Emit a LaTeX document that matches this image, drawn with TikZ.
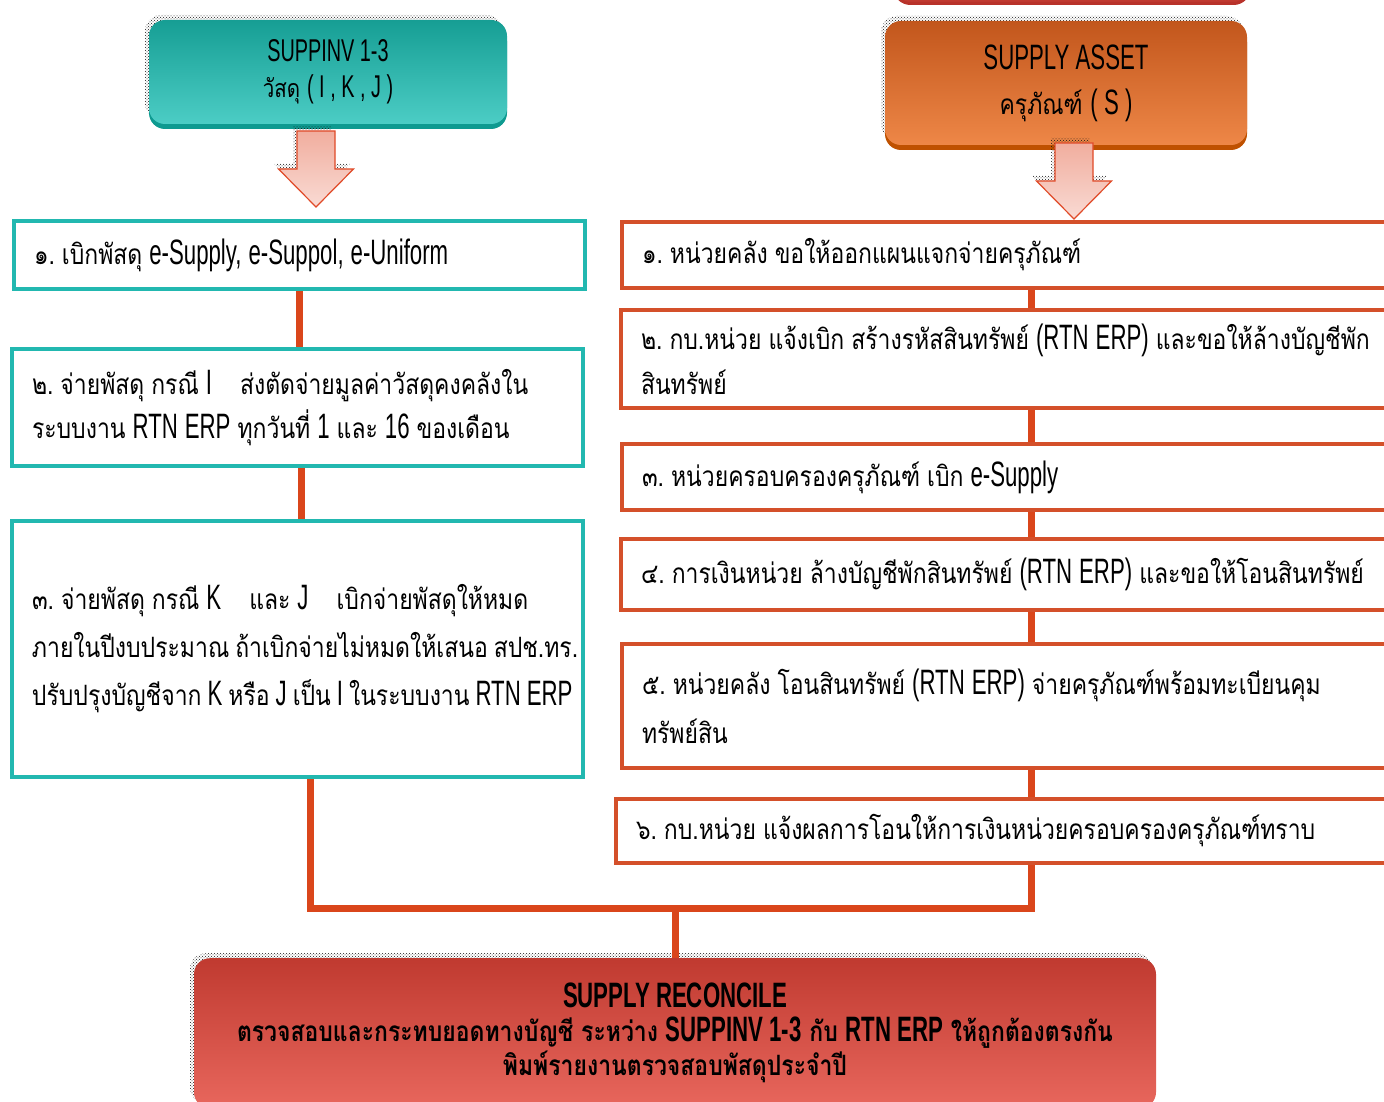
\documentclass[tikz,border=0pt]{standalone}
\usepackage{fontspec}
\setmainfont[Script=Thai,FakeStretch=0.82]{Loma}
\newfontfamily\lat[Scale=1.26,FakeStretch=0.63]{Liberation Sans}
\newcommand{\en}[1]{{\lat #1}}
\newcommand{\tight}{\spaceskip=7pt plus 2pt minus 1pt\xspaceskip=7pt plus 2pt minus 1pt\relax}
\usetikzlibrary{shadows,patterns}
\definecolor{tealline}{HTML}{22B8B0}
\definecolor{tealdark}{HTML}{0E9A90}
\definecolor{teallight}{HTML}{4CCDC5}
\definecolor{tealtop}{HTML}{169E94}
\definecolor{orline}{HTML}{D4502A}
\definecolor{ordark}{HTML}{BF5100}
\definecolor{ortop}{HTML}{C2561C}
\definecolor{orlight}{HTML}{EE8747}
\definecolor{link}{HTML}{DA461B}
\definecolor{redtop}{HTML}{C03A30}
\definecolor{redlight}{HTML}{E8675D}
\definecolor{reddark}{HTML}{B8322A}
\definecolor{arrline}{HTML}{E04A28}

\begin{document}
\begin{tikzpicture}[x=1pt,y=-1pt]
                        \tikzstyle{dots}=[general shadow={shadow xshift=-4pt,shadow yshift=5pt,pattern=crosshatch dots,pattern color=black!90}]
                        \tikzstyle{head}=[rounded corners=16pt, inner sep=0pt, align=center, font=\fontsize{25}{38}\selectfont]
                        \tikzstyle{stepL}=[draw=tealline, line width=4pt, fill=white, anchor=north west, inner xsep=20pt, inner ysep=0pt, align=left, execute at begin node=\tight, minimum width=571pt, text width=531pt, font=\fontsize{28}{48}\selectfont]
                        \tikzstyle{stepR}=[draw=orline, line width=4pt, fill=white, anchor=north west, inner xsep=20pt, inner ysep=0pt, align=left, execute at begin node=\tight, minimum width=800pt, text width=760pt, font=\fontsize{28}{47}\selectfont]
                        \tikzstyle{fat}=[top color=arrline!45, bottom color=arrline!20, draw=arrline, line width=1.2pt, line join=miter, dots]
                        \tikzstyle{link}=[draw=link, line width=7pt]
                        \clip (0,0) rectangle (1384,1102);
                        \node[head, anchor=south, minimum width=355pt, minimum height=60pt, fill=redtop, draw=reddark, line width=3pt] (prev) at (1072,5) {};
                        \node[head, dots, general shadow={shadow yshift=-5pt, fill=tealdark}, minimum width=358pt, minimum height=104pt, top color=tealtop, bottom color=teallight] (inv) at (328,72) {\en{SUPPINV 1-3}\\[-2pt] วัสดุ \en{( I , K , J )}};
                        \node[head, dots, general shadow={shadow yshift=-5pt, fill=ordark}, minimum width=362pt, minimum height=124pt, top color=ortop, bottom color=orlight, font=\fontsize{28}{45}\selectfont] (asset) at (1066,83) {\en{SUPPLY ASSET}\\ ครุภัณฑ์ \en{( S )}};
                        \coordinate (arrL) at (316,131);
                        \coordinate (arrR) at (1074,143);
                        \draw[fat] (arrL) ++(-19,0) -- ++(38,0) -- ++(0,38) -- ++(18.5,0) -- ++(-37.5,38) -- ++(-37.5,-38) -- ++(18.5,0) -- cycle;
                        \draw[fat] (arrR) ++(-19,0) -- ++(38,0) -- ++(0,38) -- ++(18.5,0) -- ++(-37.5,38) -- ++(-37.5,-38) -- ++(18.5,0) -- cycle;
                        \node[stepL, minimum height=68pt] (L1) at (12,219) {๑. เบิกพัสดุ \en{e-Supply, e-Suppol, e-Uniform}};
                        \node[stepL, minimum height=117pt, font=\fontsize{28}{44}\selectfont] (L2) at (10,347) {๒. จ่ายพัสดุ กรณี \en{I}\quad ส่งตัดจ่ายมูลค่าวัสดุคงคลังใน\\ระบบงาน \en{RTN ERP} ทุกวันที่ \en{1} และ \en{16} ของเดือน};
                        \node[stepL, minimum height=256pt] (L3) at (10,519) {๓. จ่ายพัสดุ กรณี \en{K}\quad และ \en{J}\quad เบิกจ่ายพัสดุให้หมด\\ภายในปีงบประมาณ~ถ้าเบิกจ่ายไม่หมดให้เสนอ~สปช.ทร.\\ปรับปรุงบัญชีจาก~\en{K}~หรือ~\en{J}~เป็น~\en{I}~ในระบบงาน~\en{RTN~ERP}};
                        \node[stepR, minimum height=66pt] (R1) at (620,220) {๑. หน่วยคลัง ขอให้ออกแผนแจกจ่ายครุภัณฑ์};
                        \node[stepR, minimum height=98pt, font=\fontsize{28}{45}\selectfont] (R2) at (619,308) {๒. กบ.หน่วย แจ้งเบิก สร้างรหัสสินทรัพย์ \en{(RTN ERP)} และขอให้ล้างบัญชีพัก\\สินทรัพย์};
                        \node[stepR, minimum height=66pt] (R3) at (620,442) {๓. หน่วยครอบครองครุภัณฑ์ เบิก \en{e-Supply}};
                        \node[stepR, minimum height=71pt] (R4) at (619,537) {๔. การเงินหน่วย ล้างบัญชีพักสินทรัพย์ \en{(RTN ERP)} และขอให้โอนสินทรัพย์};
                        \node[stepR, minimum height=124pt, font=\fontsize{28}{49}\selectfont] (R5) at (620,642) {๕. หน่วยคลัง โอนสินทรัพย์ \en{(RTN ERP)} จ่ายครุภัณฑ์พร้อมทะเบียนคุม\\ทรัพย์สิน};
                        \node[stepR, minimum height=64pt] (R6) at (614,797) {๖. กบ.หน่วย แจ้งผลการโอนให้การเงินหน่วยครอบครองครุภัณฑ์ทราบ};
                        \node[head, anchor=north, dots, minimum width=962pt, minimum height=150pt, top color=redtop, bottom color=redlight, font=\fontsize{28}{34}\selectfont\bfseries] (rec) at (675,958) {\en{SUPPLY RECONCILE}\\ตรวจสอบและกระทบยอดทางบัญชี ระหว่าง \en{SUPPINV 1-3} กับ \en{RTN ERP} ให้ถูกต้องตรงกัน\\พิมพ์รายงานตรวจสอบพัสดุประจำปี};
                        \coordinate (spine) at (1031,0);
                        \coordinate (lx) at (310,0);
                        \coordinate (mid) at (675,908);
                        \draw[link] (L1.south) -- (L1.south |- L2.north);
                        \draw[link] ([xshift=4pt]L2.south) -- ([xshift=4pt]L2.south |- L3.north);
                        \draw[link] (R1.south -| spine) -- (R2.north -| spine);
                        \draw[link] (R2.south -| spine) -- (R3.north -| spine);
                        \draw[link] (R3.south -| spine) -- (R4.north -| spine);
                        \draw[link] (R4.south -| spine) -- (R5.north -| spine);
                        \draw[link] (R5.south -| spine) -- (R6.north -| spine);
                        \draw[link] (L3.south -| lx) -- (lx |- mid) -- (spine |- mid) -- (R6.south -| spine);
                        \draw[link] (mid) -- (rec.north);
                    \end{tikzpicture}
\end{document}
